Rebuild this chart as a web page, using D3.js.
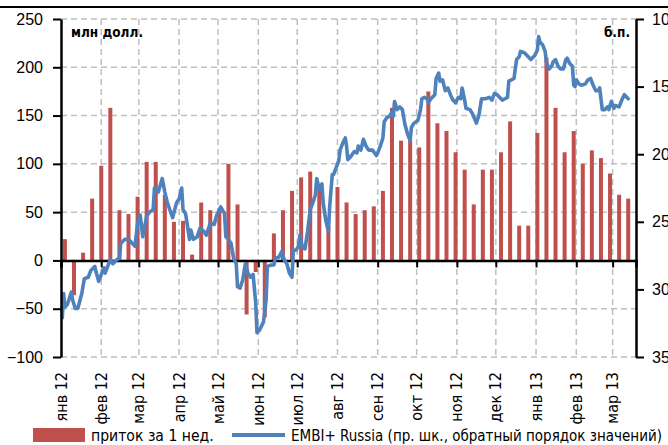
<!DOCTYPE html>
<html><head><meta charset="utf-8">
<script src="https://cdn.jsdelivr.net/npm/d3@7/dist/d3.min.js"></script>
<style>
html,body{margin:0;padding:0;background:#fff;}
svg{display:block;font-family:"Liberation Sans Narrow","DejaVu Sans Condensed","Arial Narrow",sans-serif;}
</style></head><body>
<svg id="c" width="668" height="445"></svg>
<script>
// ---- data ----
const weekDates = ["2012-01-04","2012-01-11","2012-01-18","2012-01-25","2012-02-01","2012-02-08","2012-02-15","2012-02-22","2012-02-29","2012-03-07","2012-03-14","2012-03-21","2012-03-28","2012-04-04","2012-04-11","2012-04-18","2012-04-25","2012-05-02","2012-05-09","2012-05-16","2012-05-23","2012-05-30","2012-06-06","2012-06-13","2012-06-20","2012-06-27","2012-07-04","2012-07-11","2012-07-18","2012-07-25","2012-08-01","2012-08-08","2012-08-15","2012-08-22","2012-08-29","2012-09-05","2012-09-12","2012-09-19","2012-09-26","2012-10-03","2012-10-10","2012-10-17","2012-10-24","2012-10-31","2012-11-07","2012-11-14","2012-11-21","2012-11-28","2012-12-05","2012-12-12","2012-12-19","2012-12-26","2013-01-02","2013-01-09","2013-01-16","2013-01-23","2013-01-30","2013-02-06","2013-02-13","2013-02-20","2013-02-27","2013-03-06","2013-03-13"];
const weeklyInflow = [22,-36,8,64,98,158,52,48,66,102,102,68,40,41,6,60,52,54,100,58,-56,-12,-59,28,52,72,86,92,78,36,76,60,48,52,56,72,158,124,124,117,175,142,134,112,94,58,94,94,112,144,36,36,132,210,158,112,134,100,114,106,90,68,64];

const embiDates = ["2012-01-02","2012-01-03","2012-01-04","2012-01-06","2012-01-09","2012-01-10","2012-01-12","2012-01-14","2012-01-17","2012-01-19","2012-01-22","2012-01-24","2012-01-27","2012-01-28","2012-01-30","2012-02-01","2012-02-03","2012-02-04","2012-02-06","2012-02-08","2012-02-10","2012-02-13","2012-02-15","2012-02-16","2012-02-19","2012-02-22","2012-02-24","2012-02-27","2012-02-29","2012-03-02","2012-03-04","2012-03-07","2012-03-09","2012-03-12","2012-03-13","2012-03-16","2012-03-19","2012-03-21","2012-03-23","2012-03-27","2012-03-30","2012-04-01","2012-04-03","2012-04-04","2012-04-06","2012-04-09","2012-04-10","2012-04-12","2012-04-15","2012-04-17","2012-04-20","2012-04-22","2012-04-25","2012-04-28","2012-04-30","2012-05-03","2012-05-06","2012-05-07","2012-05-09","2012-05-11","2012-05-13","2012-05-15","2012-05-16","2012-05-18","2012-05-20","2012-05-22","2012-05-24","2012-05-26","2012-05-28","2012-05-30","2012-05-31","2012-06-02","2012-06-05","2012-06-07","2012-06-08","2012-06-11","2012-06-13","2012-06-14","2012-06-17","2012-06-19","2012-06-21","2012-06-23","2012-06-25","2012-06-27","2012-06-28","2012-06-30","2012-07-02","2012-07-03","2012-07-05","2012-07-07","2012-07-09","2012-07-11","2012-07-13","2012-07-15","2012-07-16","2012-07-18","2012-07-20","2012-07-21","2012-07-23","2012-07-25","2012-07-26","2012-07-28","2012-07-29","2012-07-31","2012-08-02","2012-08-03","2012-08-05","2012-08-07","2012-08-08","2012-08-09","2012-08-11","2012-08-14","2012-08-16","2012-08-17","2012-08-19","2012-08-21","2012-08-23","2012-08-25","2012-08-28","2012-08-31","2012-09-01","2012-09-03","2012-09-05","2012-09-06","2012-09-08","2012-09-10","2012-09-12","2012-09-13","2012-09-14","2012-09-16","2012-09-18","2012-09-20","2012-09-22","2012-09-24","2012-09-26","2012-09-27","2012-09-29","2012-10-02","2012-10-04","2012-10-05","2012-10-07","2012-10-09","2012-10-10","2012-10-12","2012-10-15","2012-10-16","2012-10-18","2012-10-19","2012-10-21","2012-10-23","2012-10-25","2012-10-27","2012-10-29","2012-10-31","2012-11-02","2012-11-04","2012-11-05","2012-11-07","2012-11-08","2012-11-11","2012-11-13","2012-11-16","2012-11-18","2012-11-20","2012-11-23","2012-11-26","2012-11-28","2012-11-30","2012-12-02","2012-12-04","2012-12-06","2012-12-08","2012-12-10","2012-12-11","2012-12-13","2012-12-15","2012-12-17","2012-12-19","2012-12-20","2012-12-23","2012-12-26","2012-12-28","2012-12-31","2013-01-02","2013-01-03","2013-01-04","2013-01-06","2013-01-08","2013-01-09","2013-01-11","2013-01-13","2013-01-14","2013-01-16","2013-01-18","2013-01-20","2013-01-22","2013-01-24","2013-01-25","2013-01-27","2013-01-29","2013-01-30","2013-01-31","2013-02-01","2013-02-03","2013-02-05","2013-02-08","2013-02-10","2013-02-12","2013-02-14","2013-02-16","2013-02-18","2013-02-19","2013-02-21","2013-02-23","2013-02-25","2013-02-26","2013-02-28","2013-03-02","2013-03-03","2013-03-06","2013-03-08","2013-03-10","2013-03-13"];
const embiSpread = [321,303,313,311,302,308,314,314,303,292,291,286,283,287,294,289,284,288,283,278,281,278,277,266,263,263,265,268,251,245,261,246,243,241,225,228,218,228,236,247,236,233,225,241,244,263,256,263,261,255,257,260,251,252,245,239,244,261,263,266,277,281,298,299,293,281,288,291,289,310,332,330,324,308,283,282,282,277,276,272,278,281,288,291,271,271,268,260,269,270,257,241,236,230,218,226,222,236,249,257,239,215,215,210,205,197,192,188,194,204,202,198,199,194,197,189,194,197,197,201,199,194,188,176,173,172,169,172,161,167,165,167,178,185,190,180,177,175,167,159,158,159,162,159,156,144,140,146,145,153,151,156,160,162,158,159,151,160,166,167,170,177,171,159,159,158,160,155,156,158,160,159,158,146,145,144,130,128,124,125,128,130,127,123,113,117,119,124,132,137,135,132,130,135,137,137,130,129,133,135,149,150,145,148,149,148,145,144,149,153,153,151,167,167,165,167,161,166,164,165,160,156,159];

const monthTicks = ["2012-01-01","2012-02-01","2012-03-01","2012-04-01","2012-05-01","2012-06-01","2012-07-01","2012-08-01","2012-09-01","2012-10-01","2012-11-01","2012-12-01","2013-01-01","2013-02-01","2013-03-01"];
const monthLabels = ["янв 12","фев 12","мар 12","апр 12","май 12","июн 12","июл 12","авг 12","сен 12","окт 12","ноя 12","дек 12","янв 13","фев 13","мар 13"];
const leftTicks = [-100,-50,0,50,100,150,200,250];
const rightTicks = [100,150,200,250,300,350];
const leftUnit = "млн долл.";
const rightUnit = "б.п.";
const legendBar = "приток за 1 нед.";
const legendLine = "EMBI+ Russia (пр. шк., обратный порядок значений)";

// ---- drawing ----
const parse = d3.utcParse("%Y-%m-%d");
const svg = d3.select("#c");
const L = 61, R = 636, T = 19, B = 357;
const red = "#C0504D", blue = "#4F81BD", grid = "#BFBFBF";

const x = d3.scaleUtc().domain([parse("2012-01-01"), parse("2013-03-19")]).range([L, R]);
const yL = d3.scaleLinear().domain([-100, 250]).range([B, T]);
const yR = d3.scaleLinear().domain([100, 350]).range([T, B]);

// header rule
svg.append("line").attr("x1",0).attr("x2",668).attr("y1",7).attr("y2",7).attr("stroke","#000").attr("stroke-width",2);

// grid
const g = svg.append("g");
g.selectAll("line.h").data(leftTicks).join("line")
  .attr("x1",L).attr("x2",R).attr("y1",d=>yL(d)).attr("y2",d=>yL(d))
  .attr("stroke",grid).attr("stroke-width",1.5).attr("stroke-dasharray","6,4");
g.selectAll("line.v").data(monthTicks.slice(1)).join("line")
  .attr("x1",d=>x(parse(d))).attr("x2",d=>x(parse(d))).attr("y1",T).attr("y2",B)
  .attr("stroke",grid).attr("stroke-width",1.5).attr("stroke-dasharray","6,4");

// bars
const bw = 4;
svg.append("g").selectAll("rect").data(weeklyInflow).join("rect")
  .attr("x",(d,i)=>x(parse(weekDates[i]))-bw/2)
  .attr("width",bw)
  .attr("y",d=>Math.min(yL(d),yL(0)))
  .attr("height",d=>Math.abs(yL(d)-yL(0)))
  .attr("fill",red);

// x axis (zero line)
const xAxis = d3.axisBottom(x).tickValues(monthTicks.map(parse)).tickSize(7).tickFormat("");
const xa = svg.append("g").attr("transform",`translate(0,${yL(0)})`).call(xAxis);
xa.select(".domain").attr("stroke","#000").attr("stroke-width",2.5);
xa.selectAll(".tick line").attr("stroke","#000").attr("stroke-width",2);

// line
const line = d3.line().x((d,i)=>x(parse(embiDates[i]))).y(d=>yR(d)).curve(d3.curveLinear);
svg.append("path").datum(embiSpread).attr("d",line)
  .attr("fill","none").attr("stroke",blue).attr("stroke-width",3.6).attr("stroke-linejoin","round").attr("stroke-linecap","round");

// left axis
const la = svg.append("g").attr("transform",`translate(${L},0)`)
  .call(d3.axisLeft(yL).tickValues(leftTicks).tickSize(8).tickSizeOuter(0).tickPadding(10));
la.select(".domain").attr("stroke","#000").attr("stroke-width",2.5);
la.selectAll(".tick line").attr("stroke","#000").attr("stroke-width",2);
la.selectAll("text").attr("font-size",16).attr("font-family",null).attr("fill","#000");

// right axis
const ra = svg.append("g").attr("transform",`translate(${R},0)`)
  .call(d3.axisRight(yR).tickValues(rightTicks).tickSize(8).tickSizeOuter(0).tickPadding(8));
ra.select(".domain").attr("stroke","#000").attr("stroke-width",2.5);
ra.selectAll(".tick line").attr("stroke","#000").attr("stroke-width",2);
ra.selectAll("text").attr("font-size",16).attr("font-family",null).attr("fill","#000");

// month labels
svg.append("g").selectAll("text").data(monthTicks).join("text")
  .attr("transform",d=>`translate(${x(parse(d))},372) rotate(-90)`)
  .attr("text-anchor","end").attr("dy","0.35em")
  .attr("font-size",16).attr("fill","#000")
  .text((d,i)=>monthLabels[i]);

// unit labels
svg.append("text").attr("x",71).attr("y",37).attr("font-size",13.5).attr("font-weight","bold").text(leftUnit);
svg.append("text").attr("x",630).attr("y",37).attr("font-size",13.5).attr("font-weight","bold").attr("text-anchor","end").text(rightUnit);

// legend
svg.append("rect").attr("x",33).attr("y",428).attr("width",52).attr("height",14).attr("fill",red);
svg.append("text").attr("x",91).attr("y",441).attr("font-size",15.6).text(legendBar);
svg.append("line").attr("x1",232).attr("x2",285).attr("y1",435).attr("y2",435).attr("stroke",blue).attr("stroke-width",4);
svg.append("text").attr("x",291).attr("y",441).attr("font-size",15).text(legendLine);
</script>
</body></html>
